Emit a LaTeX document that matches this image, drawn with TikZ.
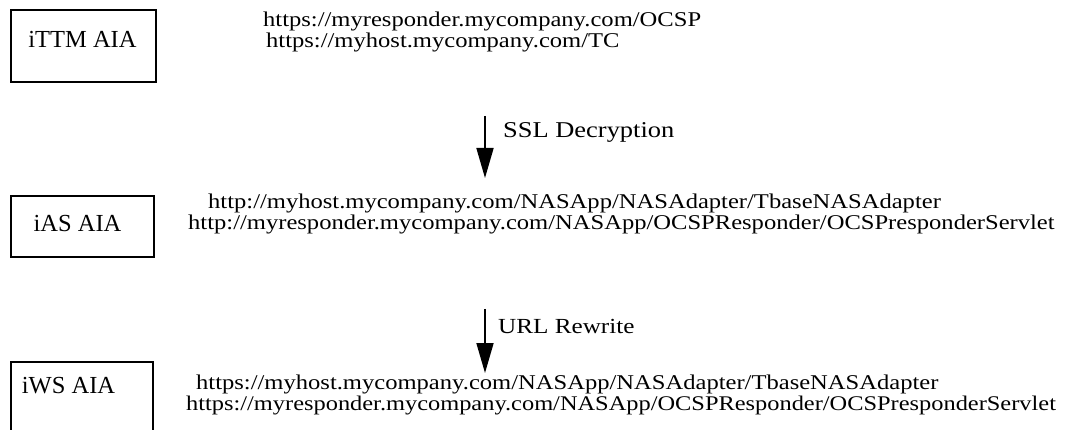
\documentclass[tikz,border=0pt]{standalone}
\usepackage{fontspec}
\setmainfont{Liberation Serif}
\newfontfamily\urlf[FakeStretch=1.17]{Liberation Serif}
\usetikzlibrary{arrows.meta}
\begin{document}
\begin{tikzpicture}[x=1pt,y=-1pt,
  aiabox/.style={draw, line width=1.9pt, inner sep=0pt},
  boxlbl/.style={font=\fontsize{24.5}{28}\selectfont, inner sep=0pt, anchor=base},
  urltext/.style={font=\urlf\fontsize{21}{24}\selectfont, inner sep=0pt, anchor=base west},
  flow/.style={line width=1.7pt, -{Triangle[length=30pt,width=17pt]}},
  flowlbl/.style={font=\urlf\fontsize{22}{26}\selectfont, inner sep=0pt, anchor=base west}]
\clip (0,0) rectangle (1068,430);
\fill[white] (0,0) rectangle (1068,430);
% boxes
\node[aiabox, minimum width=145pt, minimum height=72pt] (ittm) at (83.5,46) {};
\node[boxlbl] (ittmlbl) at (82.5,48) {iTTM AIA};
\node[aiabox, minimum width=143pt, minimum height=61pt] (ias) at (82.5,226.5) {};
\node[boxlbl] (iaslbl) at (77.5,232) {iAS AIA};
\node[aiabox, minimum width=142pt, minimum height=100pt] (iws) at (82,412) {};
\node[boxlbl] (iwslbl) at (68.5,393) {iWS AIA};
% URLs
\node[urltext] (u1) at (263,27) {https://myresponder.mycompany.com/OCSP};
\node[urltext] (u2) at (266,48) {https://myhost.mycompany.com/TC};
\node[urltext] (u3) at (208,209) {http://myhost.mycompany.com/NASApp/NASAdapter/TbaseNASAdapter};
\node[urltext] (u4) at (188,230) {http://myresponder.mycompany.com/NASApp/OCSPResponder/OCSPresponderServlet};
\node[urltext] (u5) at (196,389) {https://myhost.mycompany.com/NASApp/NASAdapter/TbaseNASAdapter};
\node[urltext, font=\urlf\fontsize{20.85}{24}\selectfont] (u6) at (186,410) {https://myresponder.mycompany.com/NASApp/OCSPResponder/OCSPresponderServlet};
% arrows
\coordinate (a1s) at (485,116);
\coordinate (a1e) at (485,178);
\coordinate (a2s) at (485,309);
\coordinate (a2e) at (485,373);
\draw[flow] (a1s) -- (a1e);
\draw[flow] (a2s) -- (a2e);
\node[flowlbl, font=\urlf\fontsize{22.6}{26}\selectfont] (ssl) at (503,138) {SSL Decryption};
\node[flowlbl, font=\urlf\fontsize{21.5}{26}\selectfont] (rew) at (498,334) {URL Rewrite};
\end{tikzpicture}
\end{document}
